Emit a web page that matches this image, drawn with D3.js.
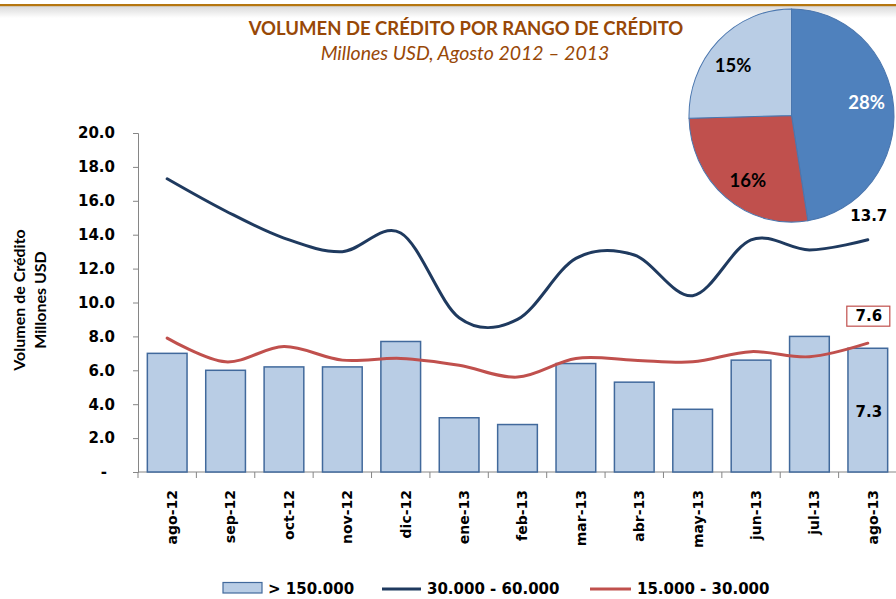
<!DOCTYPE html>
<html>
<head>
<meta charset="utf-8">
<script src="https://cdn.jsdelivr.net/npm/d3@7"></script>
<style>
  html, body { margin: 0; padding: 0; background: #fff; }
  svg { display: block; }
</style>
</head>
<body>
<svg id="chart" width="896" height="599"></svg>
<script>
// Monthly credit volume by credit range, Aug 2012 – Aug 2013 (millions USD)
const months = ["ago-12", "sep-12", "oct-12", "nov-12", "dic-12", "ene-13", "feb-13",
                "mar-13", "abr-13", "may-13", "jun-13", "jul-13", "ago-13"];
const volOver150 = [7.0, 6.0, 6.2, 6.2, 7.7, 3.2, 2.8, 6.4, 5.3, 3.7, 6.6, 8.0, 7.3];
const vol30to60 = [17.3, 15.4, 13.8, 13.0, 14.1, 9.1, 9.0, 12.6, 12.8, 10.4, 13.7, 13.1, 13.7];
const vol15to30 = [7.9, 6.5, 7.4, 6.6, 6.7, 6.3, 5.6, 6.7, 6.6, 6.5, 7.1, 6.8, 7.6];
const yTicks = [0, 2, 4, 6, 8, 10, 12, 14, 16, 18, 20];
const seriesNames = ["> 150.000", "30.000 - 60.000", "15.000 - 30.000"];

// Share of total volume (pie)
const shareValues = [28, 16, 15];
const shareLabels = ["28%", "16%", "15%"];

const C = {
  barFill: "#B9CDE5", barStroke: "#41699C",
  navy: "#1F3A5F", red: "#C0504D",
  pieBlue: "#4F81BD", pieRed: "#C0504D", pieLight: "#B9CDE5",
  axis: "#868686", title: "#984807"
};
const tickFont = "'DejaVu Sans', Verdana, sans-serif";
const textFont = "Lato, Calibri, sans-serif";

const svg = d3.select("#chart");

// header rule with a soft shadow underneath
const defs = svg.append("defs");
const grad = defs.append("linearGradient").attr("id", "hdrShade")
  .attr("x1", 0).attr("y1", 0).attr("x2", 0).attr("y2", 1);
grad.append("stop").attr("offset", "0%").attr("stop-color", "#d9d9d9");
grad.append("stop").attr("offset", "100%").attr("stop-color", "#ffffff");
svg.append("rect").attr("x", 0).attr("y", 6).attr("width", 896).attr("height", 12)
  .attr("fill", "url(#hdrShade)");
svg.append("rect").attr("x", 0).attr("y", 4).attr("width", 896).attr("height", 2.2)
  .attr("fill", "#B5760F");

// titles
svg.append("text").attr("x", 466).attr("y", 35).attr("text-anchor", "middle")
  .attr("font-family", textFont).attr("font-weight", 700).attr("font-size", 18.5)
  .attr("fill", C.title).text("VOLUMEN DE CRÉDITO POR RANGO DE CRÉDITO");
svg.append("text").attr("x", 465).attr("y", 60).attr("text-anchor", "middle")
  .attr("font-family", textFont).attr("font-style", "italic").attr("font-size", 19.5)
  .attr("fill", C.title).text("Millones USD, Agosto 2012 – 2013");

// scales
const x = d3.scaleBand().domain(months).range([138, 897]).paddingInner(0.32).paddingOuter(0.16);
const xStep = x.step();
const y = d3.scaleLinear().domain([0, 20]).range([472, 133]);
const cx = d => x(d) + x.bandwidth() / 2;

// y axis
const yAxis = svg.append("g").attr("transform", "translate(138,0)")
  .call(d3.axisLeft(y).tickValues(yTicks).tickSize(5).tickPadding(18)
    .tickFormat(d => d === 0 ? "-" : d.toFixed(1)));
yAxis.select(".domain").attr("stroke", C.axis);
yAxis.selectAll(".tick line").attr("stroke", C.axis);
yAxis.selectAll(".tick text").attr("font-family", tickFont).attr("font-weight", 700)
  .attr("font-size", 15).attr("fill", "#000");
yAxis.selectAll(".tick text").filter(d => d === 0).attr("x", -31);

// x axis: ticks sit on the category boundaries
const xAxisG = svg.append("g").attr("transform", "translate(0,472)");
xAxisG.append("line").attr("x1", 138).attr("x2", 897).attr("stroke", C.axis);
xAxisG.selectAll("line.tk").data(d3.range(months.length + 1)).join("line")
  .attr("class", "tk")
  .attr("x1", i => 138 + i * xStep).attr("x2", i => 138 + i * xStep)
  .attr("y1", 0).attr("y2", 6).attr("stroke", C.axis);
xAxisG.selectAll("text").data(months).join("text")
  .attr("transform", d => `translate(${cx(d) + 5},18) rotate(-90)`)
  .attr("text-anchor", "end").attr("dy", "0.35em")
  .attr("font-family", tickFont).attr("font-weight", 700).attr("font-size", 14)
  .text(d => d);

// y axis title
const yt = svg.append("text").attr("transform", "translate(25,300) rotate(-90)")
  .attr("text-anchor", "middle").attr("font-family", textFont)
  .attr("font-weight", 700).attr("font-size", 16);
yt.append("tspan").attr("x", 0).attr("dy", 0).text("Volumen de Crédito");
yt.append("tspan").attr("x", 0).attr("dy", 21).text("Millones USD");

// bars
svg.append("g").selectAll("rect").data(volOver150).join("rect")
  .attr("x", (d, i) => x(months[i]))
  .attr("y", d => y(d))
  .attr("width", x.bandwidth())
  .attr("height", d => y(0) - y(d))
  .attr("fill", C.barFill).attr("stroke", C.barStroke).attr("stroke-width", 1.5);

// smoothed lines
const line = d3.line().x((d, i) => cx(months[i])).y(d => y(d)).curve(d3.curveCardinal.tension(0));
svg.append("path").datum(vol30to60).attr("d", line)
  .attr("fill", "none").attr("stroke", C.navy).attr("stroke-width", 3).attr("stroke-linecap", "round");
svg.append("path").datum(vol15to30).attr("d", line)
  .attr("fill", "none").attr("stroke", C.red).attr("stroke-width", 3).attr("stroke-linecap", "round");

// value labels on the last month
const last = months.length - 1;
const lx = cx(months[last]) + 1;
svg.append("text").attr("x", lx).attr("y", y(vol30to60[last]) - 24).attr("dy", "0.35em")
  .attr("text-anchor", "middle").attr("font-family", tickFont).attr("font-weight", 700)
  .attr("font-size", 15).text(vol30to60[last].toFixed(1));
svg.append("text").attr("x", lx).attr("y", (y(volOver150[last]) + y(0)) / 2 + 2).attr("dy", "0.35em")
  .attr("text-anchor", "middle").attr("font-family", tickFont).attr("font-weight", 700)
  .attr("font-size", 15).text(volOver150[last].toFixed(1));
const boxY = y(vol15to30[last]) - 27;
svg.append("rect").attr("x", lx - 22).attr("y", boxY - 10).attr("width", 43).attr("height", 20)
  .attr("fill", "#fff").attr("stroke", C.red).attr("stroke-width", 1.2);
svg.append("text").attr("x", lx).attr("y", boxY).attr("dy", "0.35em")
  .attr("text-anchor", "middle").attr("font-family", tickFont).attr("font-weight", 700)
  .attr("font-size", 15).text(vol15to30[last].toFixed(1));

// pie of shares
const pieG = svg.append("g").attr("transform", "translate(791.5,115.5)");
const pie = d3.pie().sort(null).value(d => d);
const arcs = pie(shareValues);
const arc = d3.arc().innerRadius(0).outerRadius(102.5);
const pieColors = [C.pieBlue, C.pieRed, C.pieLight];
pieG.append("g").attr("transform", "scale(1,1.04)")
  .selectAll("path").data(arcs).join("path")
  .attr("d", arc).attr("fill", (d, i) => pieColors[i])
  .attr("stroke", "#4A76AE").attr("stroke-width", 1);
// label anchors: slice mid-angle, nudged slightly toward the top of each slice
const labelPos = d => {
  const a = (d.startAngle + d.endAngle) / 2 - 0.08;
  return [Math.sin(a) * 76, -Math.cos(a) * 76 * 1.04];
};
pieG.selectAll("text").data(arcs).join("text")
  .attr("x", d => labelPos(d)[0])
  .attr("y", d => labelPos(d)[1])
  .attr("dy", "0.35em").attr("text-anchor", "middle")
  .attr("font-family", textFont).attr("font-weight", 700).attr("font-size", 18.5)
  .attr("fill", (d, i) => i === 0 ? "#fff" : "#000")
  .text((d, i) => shareLabels[i]);

// legend
const lg = svg.append("g").attr("font-family", tickFont).attr("font-weight", 700).attr("font-size", 15);
lg.append("rect").attr("x", 223).attr("y", 582.5).attr("width", 39).attr("height", 10.5)
  .attr("fill", C.barFill).attr("stroke", C.barStroke).attr("stroke-width", 1.2);
lg.append("text").attr("x", 268).attr("y", 589).attr("dy", "0.35em").text(seriesNames[0]);
lg.append("line").attr("x1", 382).attr("x2", 421).attr("y1", 589).attr("y2", 589)
  .attr("stroke", C.navy).attr("stroke-width", 3);
lg.append("text").attr("x", 427).attr("y", 589).attr("dy", "0.35em").text(seriesNames[1]);
lg.append("line").attr("x1", 590).attr("x2", 631).attr("y1", 589).attr("y2", 589)
  .attr("stroke", C.red).attr("stroke-width", 3);
lg.append("text").attr("x", 637).attr("y", 589).attr("dy", "0.35em").text(seriesNames[2]);
</script>
</body>
</html>
